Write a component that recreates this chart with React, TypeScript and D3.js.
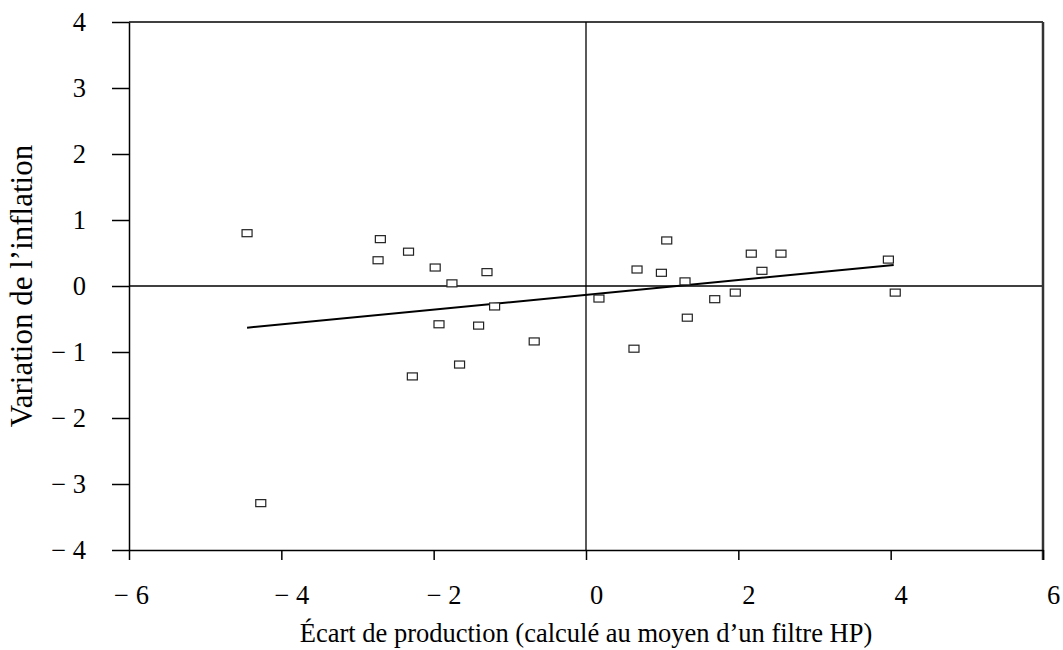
import React, { useRef, useEffect } from 'react';
import * as d3 from 'd3';

// output gap (HP filter) vs change in inflation
const outputGap = [
  -4.45, -4.27, -2.70, -2.33, -2.73, -1.98, -1.30, -1.76, -1.20, -1.93,
  -1.41, -0.68, -1.66, -2.28, 1.06, 2.17, 2.56, 3.97, 0.67, 0.99,
  2.31, 1.30, 0.17, 1.69, 1.96, 4.06, 1.33, 0.63,
];
const inflationChange = [
  0.80, -3.29, 0.71, 0.52, 0.39, 0.28, 0.21, 0.04, -0.31, -0.58,
  -0.60, -0.84, -1.19, -1.37, 0.69, 0.49, 0.49, 0.40, 0.25, 0.20,
  0.23, 0.07, -0.19, -0.20, -0.10, -0.10, -0.48, -0.95,
];

// fitted line
const fitSlope = 0.112;
const fitIntercept = -0.134;
const fitFrom = -4.45;
const fitTo = 4.04;

const xTicks = [-6, -4, -2, 0, 2, 4, 6];
const yTicks = [-4, -3, -2, -1, 0, 1, 2, 3, 4];

const xTitle = 'Écart de production (calculé au moyen d’un filtre HP)';
const yTitle = 'Variation de l’inflation';

const width = 1063;
const height = 650;
const font = '"Liberation Serif", "Times New Roman", serif';

const fmt = (d) => (d < 0 ? `− ${-d}` : `${d}`);

function Scatter() {
  const svgRef = useRef(null);

  useEffect(() => {
    const svg = d3.select(svgRef.current);
    svg.selectAll('*').remove();

    const x = d3.scaleLinear().domain([-6, 6]).range([129, 1043]);
    const y = d3.scaleLinear().domain([-4, 4]).range([550, 22]);

    // zero lines
    svg.append('line')
      .attr('x1', x(0)).attr('x2', x(0))
      .attr('y1', y(4)).attr('y2', y(-4))
      .attr('stroke', '#000').attr('stroke-width', 1.3);
    svg.append('line')
      .attr('x1', x(-6)).attr('x2', x(6))
      .attr('y1', y(0)).attr('y2', y(0))
      .attr('stroke', '#000').attr('stroke-width', 1.3);

    // frame: top and right
    svg.append('line')
      .attr('x1', x(-6)).attr('x2', x(6))
      .attr('y1', y(4)).attr('y2', y(4))
      .attr('stroke', '#000').attr('stroke-width', 1.5);
    svg.append('line')
      .attr('x1', x(6)).attr('x2', x(6))
      .attr('y1', y(4)).attr('y2', y(-4) + 10)
      .attr('stroke', '#333').attr('stroke-width', 2.5);

    // x axis
    const xAxis = d3.axisBottom(x)
      .tickValues(xTicks)
      .tickFormat(fmt)
      .tickSizeInner(10)
      .tickSizeOuter(0)
      .tickPadding(25);
    const gx = svg.append('g')
      .attr('transform', `translate(0,${y(-4)})`)
      .call(xAxis);
    gx.attr('font-family', font).attr('font-size', 26.5);
    gx.selectAll('path, line').attr('stroke', '#000').attr('stroke-width', 1.5);
    gx.selectAll('text')
      .attr('fill', '#000')
      .attr('dx', (d) => (d === -6 ? 2 : 10));

    // y axis
    const yAxis = d3.axisLeft(y)
      .tickValues(yTicks)
      .tickFormat(fmt)
      .tickSizeInner(17)
      .tickSizeOuter(0)
      .tickPadding(26);
    const gy = svg.append('g')
      .attr('transform', `translate(${x(-6)},0)`)
      .call(yAxis);
    gy.attr('font-family', font).attr('font-size', 26.5);
    gy.selectAll('path, line').attr('stroke', '#000').attr('stroke-width', 1.5);
    gy.selectAll('text').attr('fill', '#000');

    // regression line
    const line = d3.line()
      .x((d) => x(d))
      .y((d) => y(fitIntercept + fitSlope * d));
    svg.append('path')
      .datum([fitFrom, fitTo])
      .attr('d', line)
      .attr('fill', 'none')
      .attr('stroke', '#000')
      .attr('stroke-width', 2);

    // points
    svg.selectAll('.pt')
      .data(outputGap.map((g, i) => [g, inflationChange[i]]))
      .join('rect')
      .attr('class', 'pt')
      .attr('x', (d) => x(d[0]) - 5)
      .attr('y', (d) => y(d[1]) - 3.5)
      .attr('width', 10)
      .attr('height', 7)
      .attr('fill', '#fff')
      .attr('stroke', '#222')
      .attr('stroke-width', 1.2);

    // titles
    svg.append('text')
      .attr('x', (x(-6) + x(6)) / 2)
      .attr('y', 642)
      .attr('text-anchor', 'middle')
      .attr('font-family', font)
      .attr('font-size', 26.5)
      .text(xTitle);
    svg.append('text')
      .attr('transform', `translate(32,${(y(4) + y(-4)) / 2}) rotate(-90)`)
      .attr('text-anchor', 'middle')
      .attr('font-family', font)
      .attr('font-size', 31)
      .text(yTitle);
  }, []);

  return <svg ref={svgRef} width={width} height={height} style={{ display: 'block' }} />;
}

export default function App() {
  return (
    <div style={{ position: 'absolute', left: 0, top: 0, background: '#fff' }}>
      <Scatter />
    </div>
  );
}
